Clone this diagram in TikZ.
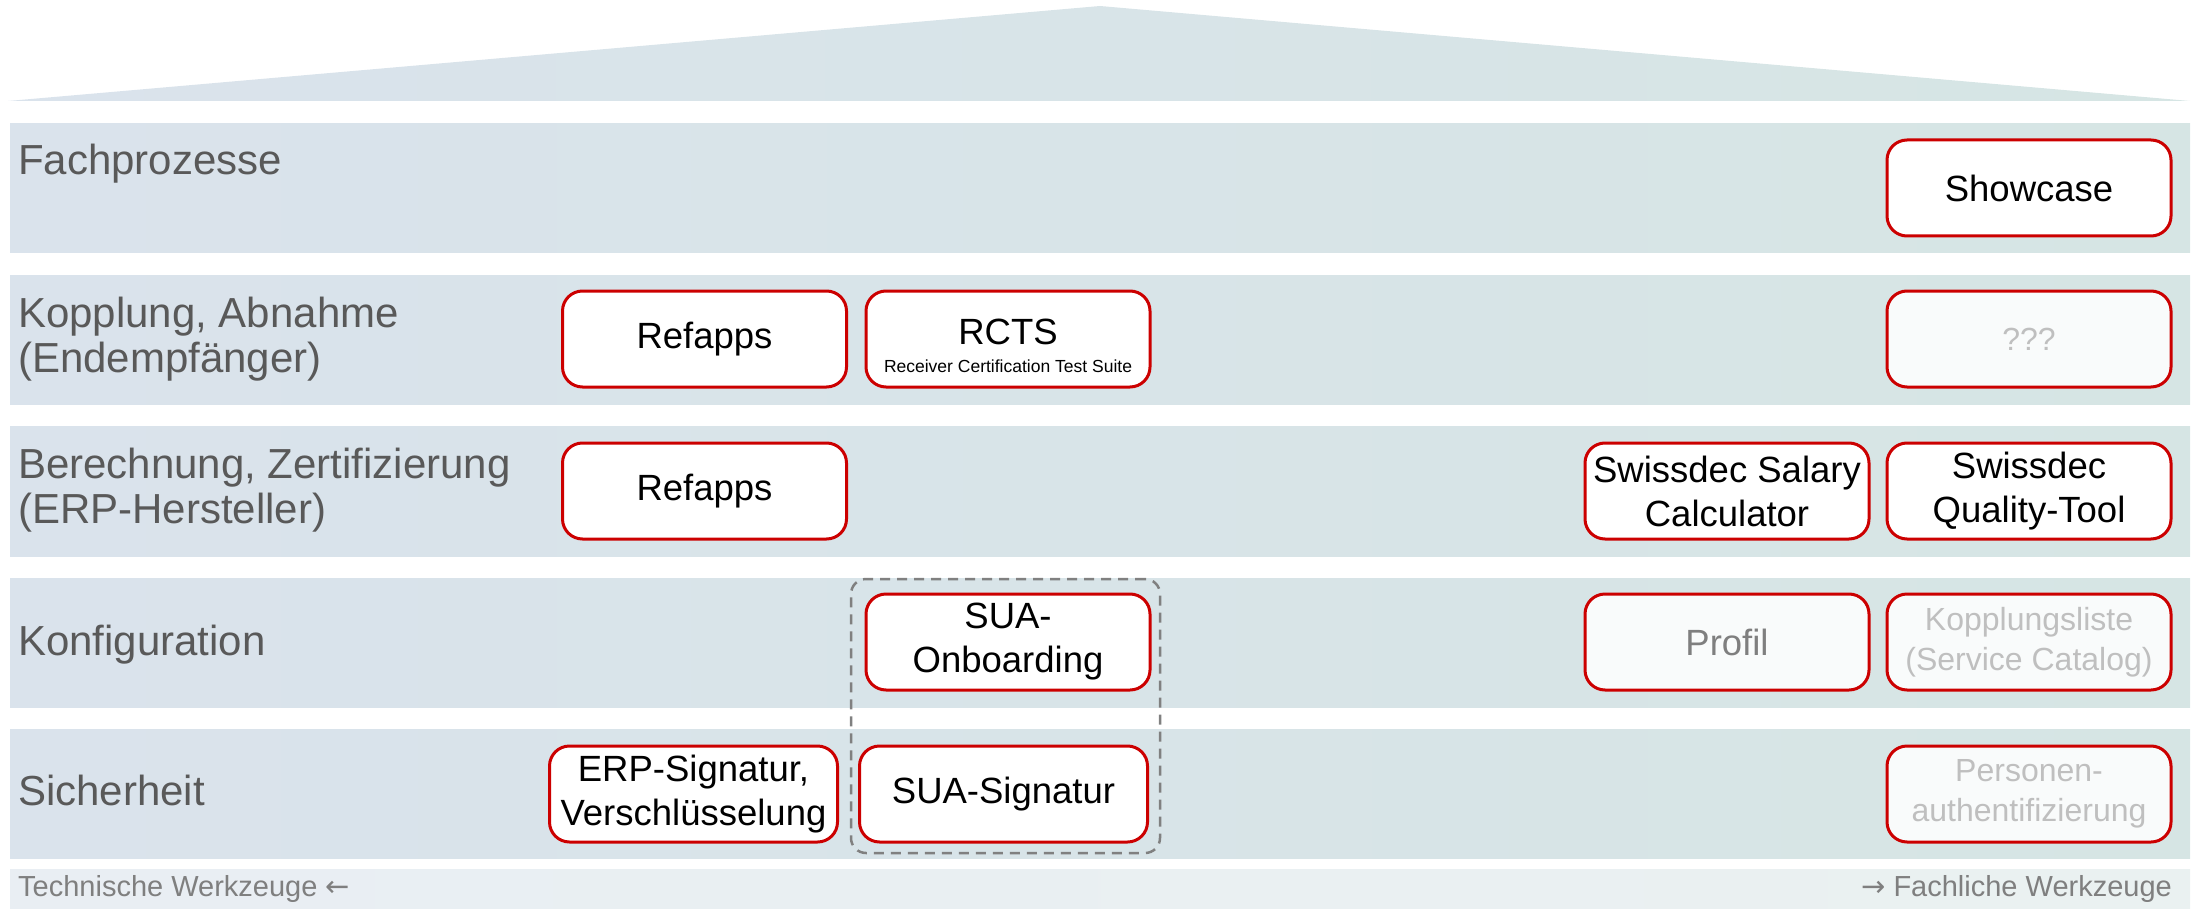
\documentclass[tikz,border=0pt]{standalone}
\usepackage{fontspec}
\setmainfont{Liberation Sans}
\newfontfamily\arrowfont{DejaVu Sans}
\definecolor{bandL}{RGB}{218,227,236}
\definecolor{bandR}{RGB}{214,229,228}
\definecolor{barL}{RGB}{233,238,243}
\definecolor{barR}{RGB}{234,241,241}
\definecolor{boxred}{RGB}{204,0,0}
\definecolor{lblgray}{RGB}{89,89,89}
\definecolor{ghostfill}{RGB}{249,251,251}
\definecolor{ghosttext}{RGB}{191,191,191}
\definecolor{midgray}{RGB}{127,127,127}
\definecolor{dashgray}{RGB}{128,128,128}
\newcommand{\boxfont}{\fontsize{36.5}{44}\selectfont}
\newcommand{\smallboxfont}{\fontsize{32}{40}\selectfont}
\newcommand{\lblfont}{\fontsize{42}{45}\selectfont}
\newcommand{\subfont}{\fontsize{17.5}{20}\selectfont}
\newcommand{\barfont}{\fontsize{29}{32}\selectfont}
\begin{document}
\begin{tikzpicture}[x=1pt,y=-1pt,
  band/.style={left color=bandL,right color=bandR},
  tool/.style={draw=boxred,line width=3pt,rounded corners=20pt,fill=white,
    align=center,font=\boxfont,text=black,minimum height=96pt,
    minimum width=284pt,inner xsep=0pt,inner ysep=2pt},
  toolw/.style={tool,minimum width=288pt},
  ghost/.style={tool,fill=ghostfill,text=ghosttext,font=\smallboxfont},
  lbl/.style={font=\lblfont,text=lblgray,align=left,inner sep=0pt},
  bartext/.style={font=\barfont,text=midgray,inner sep=0pt},
  group/.style={draw=dashgray,line width=2.5pt,dash pattern=on 10pt off 7pt,
    rounded corners=15pt,minimum width=309pt,minimum height=274pt,inner sep=0pt}]
\useasboundingbox (0,0) rectangle (2199,909);
% roof
\shade[band] (8,101) -- (1100,6) -- (2190,101) -- cycle;
% bands
\shade[band] (10,124) rectangle (2190,253);
\shade[band] (10,275) rectangle (2190,404);
\shade[band] (10,426) rectangle (2190,556);
\shade[band] (10,578) rectangle (2190,707);
\shade[band] (10,729) rectangle (2190,858);
\shade[left color=barL,right color=barR] (10,869) rectangle (2190,909);
% row labels
\node[lbl,anchor=base west] (l1) at (18,175) {Fachprozesse};
\node[lbl,anchor=west] (l2) at (18,339) {Kopplung, Abnahme\\(Endempfänger)};
\node[lbl,anchor=west] (l3) at (18,490) {Berechnung, Zertifizierung\\(ERP-Hersteller)};
\node[lbl,anchor=base west] (l4) at (18,655) {Konfiguration};
\node[lbl,anchor=base west] (l5) at (18,805) {Sicherheit};
% dashed group
\node[group] (sua) at (1005.5,716) {};
% row 1
\node[tool] (showcase) at (2029,188) {Showcase};
% row 2
\node[tool] (refapps1) at (704.5,339) {Refapps};
\node[tool] (rcts) at (1008,339) {\rule{0pt}{40pt}RCTS\\[-16pt]{\subfont Receiver Certification Test Suite}};
\node[ghost] (qqq) at (2029,339) {???};
% row 3
\node[tool] (refapps2) at (704.5,491) {Refapps};
\node[tool] (salary) at (1727,491) {Swissdec Salary\\Calculator};
\node[tool] (quality) at (2029,491) {Swissdec\\Quality-Tool};
% row 4
\node[tool] (onboard) at (1008,642) {SUA-\\Onboarding};
\node[ghost,font=\boxfont,text=midgray] (profil) at (1727,642) {Profil};
\node[ghost] (kopp) at (2029,642) {Kopplungsliste\\(Service Catalog)};
% row 5
\node[toolw] (erp) at (693.5,794) {ERP-Signatur,\\Verschlüsselung};
\node[toolw] (suasig) at (1003.5,794) {SUA-Signatur};
\node[ghost] (person) at (2029,794) {Personen-\\authentifizierung};
% bottom bar
\node[bartext,anchor=west] (techn) at (18,889) {Technische Werkzeuge {\arrowfont ←}};
\node[bartext,anchor=east] (fach) at (2172,889) {{\arrowfont →} Fachliche Werkzeuge};
\end{tikzpicture}
\end{document}
